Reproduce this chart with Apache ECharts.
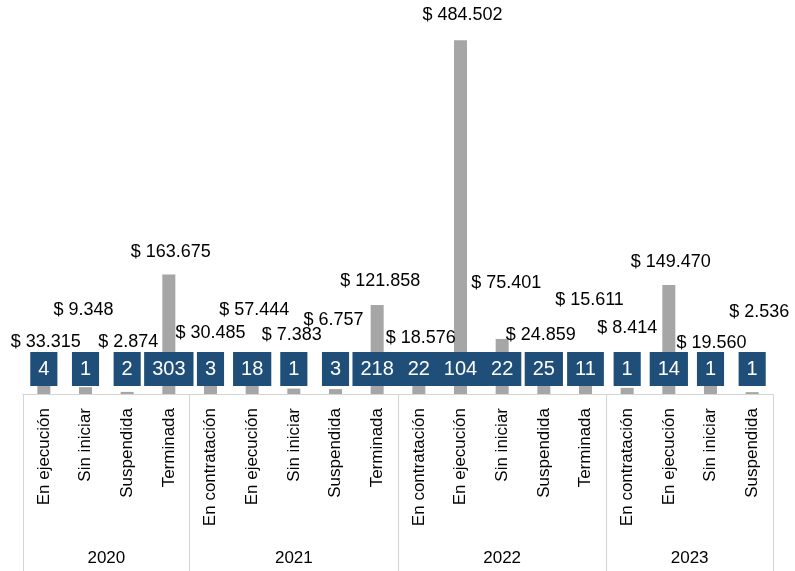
<!DOCTYPE html>
<html>
<head>
<meta charset="utf-8">
<script src="https://cdn.jsdelivr.net/npm/echarts@6/dist/echarts.min.js"></script>
<style>
  html, body { margin: 0; padding: 0; background: #fff; }
  #chart { width: 795px; height: 571px; }
</style>
</head>
<body>
<div id="chart"></div>
<script>
const years = ['2020', '2021', '2022', '2023']
const statesByYear = [
  ['En ejecución', 'Sin iniciar', 'Suspendida', 'Terminada'],
  ['En contratación', 'En ejecución', 'Sin iniciar', 'Suspendida', 'Terminada'],
  ['En contratación', 'En ejecución', 'Sin iniciar', 'Suspendida', 'Terminada'],
  ['En contratación', 'En ejecución', 'Sin iniciar', 'Suspendida'],
]
// valor total por estado (millones)
const amounts = [33315, 9348, 2874, 163675, 30485, 57444, 7383, 6757, 121858, 18576, 484502, 75401, 24859, 15611, 8414, 149470, 19560, 2536]
// número de proyectos
const counts = [4, 1, 2, 303, 3, 18, 1, 3, 218, 22, 104, 22, 25, 11, 1, 14, 1, 1]

// ajustes manuales de las etiquetas de valor (como en el original)
const labelNudge = [[2, -14], [-2, -63], [1, -36], [2, -8], [0, -25], [2, -28], [-2, -40], [-2, -55], [3, -10],
  [2, -28], [2, -11], [4, -42], [-3, -27], [4, -69], [0, -46], [2, -9], [1, -23], [7, -66]]

const FONT = '"Liberation Sans", Arial, sans-serif'
const GREY_LINE = '#D4D4D4'

const categories = []
statesByYear.forEach((states, i) => states.forEach(s => categories.push(years[i] + '|' + s)))

const groupSizes = statesByYear.map(s => s.length)
const bounds = [0]
groupSizes.forEach(n => bounds.push(bounds[bounds.length - 1] + n))
const centers = groupSizes.map((n, i) => bounds[i] + n / 2)

const fmtMoney = v => '$ ' + String(v).replace(/\B(?=(\d{3})+(?!\d))/g, '.')

const chart = echarts.init(document.getElementById('chart'))

chart.setOption({
  animation: false,
  textStyle: { fontFamily: FONT },
  grid: { left: 23, right: 22, top: 29, bottom: 177 },
  xAxis: [
    {
      type: 'category',
      data: categories,
      axisTick: { show: false },
      axisLine: { lineStyle: { color: GREY_LINE, width: 1 } },
      axisLabel: {
        interval: 0,
        rotate: 90,
        margin: 14,
        fontSize: 17,
        color: '#000',
        fontFamily: FONT,
        formatter: v => v.split('|')[1],
      },
    },
    {
      type: 'value',
      position: 'bottom',
      offset: 0,
      min: 0,
      max: categories.length,
      splitLine: { show: false },
      axisLine: { show: true, lineStyle: { color: GREY_LINE, width: 1 } },
      axisTick: {
        show: true,
        customValues: bounds,
        length: 180,
        lineStyle: { color: GREY_LINE, width: 1 },
      },
      axisLabel: {
        customValues: centers,
        margin: 156,
        fontSize: 17,
        color: '#000',
        fontFamily: FONT,
        formatter: v => {
          const idx = centers.indexOf(v)
          return idx >= 0 ? years[idx] : ''
        },
      },
    },
  ],
  yAxis: {
    type: 'value',
    min: 0,
    max: 500000,
    show: false,
    splitLine: { show: false },
  },
  series: [
    {
      name: 'Valor',
      type: 'bar',
      barWidth: 13,
      barGap: '-100%',
      itemStyle: { color: '#A6A6A6' },
      data: amounts.map((v, i) => ({
        value: v,
        label: { offset: labelNudge[i] },
      })),
      label: {
        show: true,
        position: 'top',
        distance: 5,
        fontSize: 18,
        color: '#000',
        fontFamily: FONT,
        formatter: p => fmtMoney(p.value),
      },
      z: 2,
    },
    {
      name: 'Proyectos',
      type: 'bar',
      barWidth: 13,
      barGap: '-100%',
      itemStyle: { color: 'rgba(0,0,0,0)' },
      data: counts.map(c => ({ value: 0, count: c })),
      label: {
        show: true,
        position: 'top',
        distance: 8,
        fontSize: 20,
        color: '#fff',
        fontFamily: FONT,
        backgroundColor: '#1F4E79',
        padding: [7, 8, 7, 8],
        formatter: p => String(p.data.count),
      },
      z: 3,
    },
  ],
})
</script>
</body>
</html>
